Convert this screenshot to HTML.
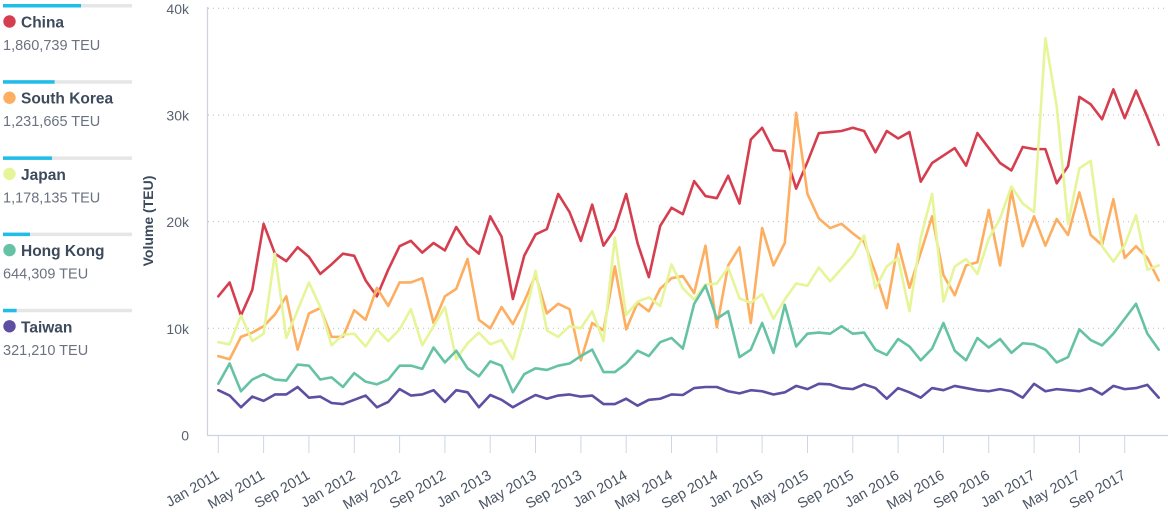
<!DOCTYPE html>
<html>
<head>
<meta charset="utf-8">
<style>
html,body{margin:0;padding:0;background:#fff;}
body{width:1168px;height:520px;overflow:hidden;}
svg{display:block;font-family:"Liberation Sans",Arial,sans-serif;}
.lg{font-size:15.5px;font-weight:bold;fill:#3d4a5c;}
.lv{font-size:14.5px;fill:#6b7280;}
.yl{font-size:14px;fill:#5a6270;text-anchor:end;}
.xl{font-size:14.5px;fill:#4a5463;text-anchor:end;}
.ser{fill:none;stroke-width:2.6;stroke-linejoin:round;stroke-linecap:round;vector-effect:non-scaling-stroke;}
</style>
</head>
<body>
<svg width="1168" height="520" viewBox="0 0 1168 520" xmlns="http://www.w3.org/2000/svg">
  <!-- Legend -->
  <g>
    <rect x="3" y="4" width="129" height="3.5" fill="#e6e6e6"/>
    <rect x="3" y="4" width="78" height="3.5" fill="#1fbdea"/>
    <circle cx="9.5" cy="21.5" r="6.2" fill="#d53e4f"/>
    <text x="21" y="27.5" class="lg">China</text>
    <text x="3" y="50" class="lv">1,860,739 TEU</text>
  </g>
  <g transform="translate(0,76.2)">
    <rect x="3" y="4" width="129" height="3.5" fill="#e6e6e6"/>
    <rect x="3" y="4" width="51.6" height="3.5" fill="#1fbdea"/>
    <circle cx="9.5" cy="21.5" r="6.2" fill="#fdae61"/>
    <text x="21" y="27.5" class="lg">South Korea</text>
    <text x="3" y="50" class="lv">1,231,665 TEU</text>
  </g>
  <g transform="translate(0,152.4)">
    <rect x="3" y="4" width="129" height="3.5" fill="#e6e6e6"/>
    <rect x="3" y="4" width="49" height="3.5" fill="#1fbdea"/>
    <circle cx="9.5" cy="21.5" r="6.2" fill="#e6f598"/>
    <text x="21" y="27.5" class="lg">Japan</text>
    <text x="3" y="50" class="lv">1,178,135 TEU</text>
  </g>
  <g transform="translate(0,228.6)">
    <rect x="3" y="4" width="129" height="3.5" fill="#e6e6e6"/>
    <rect x="3" y="4" width="27" height="3.5" fill="#1fbdea"/>
    <circle cx="9.5" cy="21.5" r="6.2" fill="#66c2a5"/>
    <text x="21" y="27.5" class="lg">Hong Kong</text>
    <text x="3" y="50" class="lv">644,309 TEU</text>
  </g>
  <g transform="translate(0,304.8)">
    <rect x="3" y="4" width="129" height="3.5" fill="#e6e6e6"/>
    <rect x="3" y="4" width="13.6" height="3.5" fill="#1fbdea"/>
    <circle cx="9.5" cy="21.5" r="6.2" fill="#5e4fa2"/>
    <text x="21" y="27.5" class="lg">Taiwan</text>
    <text x="3" y="50" class="lv">321,210 TEU</text>
  </g>

  <!-- Y axis title -->
  <text transform="translate(153,221) rotate(-90)" text-anchor="middle" font-size="14" font-weight="bold" fill="#3d4a5c">Volume (TEU)</text>

  <!-- Gridlines -->
  <g stroke="#b8b8b8" stroke-width="1" stroke-dasharray="1,4">
    <line x1="208" y1="8.3" x2="1168" y2="8.3"/>
    <line x1="208" y1="115" x2="1168" y2="115"/>
    <line x1="208" y1="221.7" x2="1168" y2="221.7"/>
    <line x1="208" y1="328.3" x2="1168" y2="328.3"/>
  </g>

  <!-- Y labels -->
  <text x="189" y="14" class="yl">40k</text>
  <text x="189" y="120.5" class="yl">30k</text>
  <text x="189" y="227.2" class="yl">20k</text>
  <text x="189" y="333.8" class="yl">10k</text>
  <text x="189" y="440.5" class="yl">0</text>

  <!-- Axes -->
  <line x1="207.5" y1="7" x2="207.5" y2="435" stroke="#ccd3e0" stroke-width="1.2"/>
  <line x1="207" y1="435.5" x2="1168" y2="435.5" stroke="#ccd3e0" stroke-width="1.2"/>

  <!-- X ticks -->
  <g stroke="#ccd6eb" stroke-width="1">
    <line x1="218.3" y1="436" x2="218.3" y2="453"/>
    <line x1="263.6" y1="436" x2="263.6" y2="453"/>
    <line x1="308.9" y1="436" x2="308.9" y2="453"/>
    <line x1="354.3" y1="436" x2="354.3" y2="453"/>
    <line x1="399.6" y1="436" x2="399.6" y2="453"/>
    <line x1="444.9" y1="436" x2="444.9" y2="453"/>
    <line x1="490.2" y1="436" x2="490.2" y2="453"/>
    <line x1="535.5" y1="436" x2="535.5" y2="453"/>
    <line x1="580.9" y1="436" x2="580.9" y2="453"/>
    <line x1="626.2" y1="436" x2="626.2" y2="453"/>
    <line x1="671.5" y1="436" x2="671.5" y2="453"/>
    <line x1="716.8" y1="436" x2="716.8" y2="453"/>
    <line x1="762.1" y1="436" x2="762.1" y2="453"/>
    <line x1="807.5" y1="436" x2="807.5" y2="453"/>
    <line x1="852.8" y1="436" x2="852.8" y2="453"/>
    <line x1="898.1" y1="436" x2="898.1" y2="453"/>
    <line x1="943.4" y1="436" x2="943.4" y2="453"/>
    <line x1="988.7" y1="436" x2="988.7" y2="453"/>
    <line x1="1034.1" y1="436" x2="1034.1" y2="453"/>
    <line x1="1079.4" y1="436" x2="1079.4" y2="453"/>
    <line x1="1124.7" y1="436" x2="1124.7" y2="453"/>
  </g>

  <!-- X labels -->
  <text class="xl" transform="translate(220.3,478) rotate(-30)">Jan 2011</text>
  <text class="xl" transform="translate(265.6,478) rotate(-30)">May 2011</text>
  <text class="xl" transform="translate(310.9,478) rotate(-30)">Sep 2011</text>
  <text class="xl" transform="translate(356.3,478) rotate(-30)">Jan 2012</text>
  <text class="xl" transform="translate(401.6,478) rotate(-30)">May 2012</text>
  <text class="xl" transform="translate(446.9,478) rotate(-30)">Sep 2012</text>
  <text class="xl" transform="translate(492.2,478) rotate(-30)">Jan 2013</text>
  <text class="xl" transform="translate(537.5,478) rotate(-30)">May 2013</text>
  <text class="xl" transform="translate(582.9,478) rotate(-30)">Sep 2013</text>
  <text class="xl" transform="translate(628.2,478) rotate(-30)">Jan 2014</text>
  <text class="xl" transform="translate(673.5,478) rotate(-30)">May 2014</text>
  <text class="xl" transform="translate(718.8,478) rotate(-30)">Sep 2014</text>
  <text class="xl" transform="translate(764.1,478) rotate(-30)">Jan 2015</text>
  <text class="xl" transform="translate(809.5,478) rotate(-30)">May 2015</text>
  <text class="xl" transform="translate(854.8,478) rotate(-30)">Sep 2015</text>
  <text class="xl" transform="translate(900.1,478) rotate(-30)">Jan 2016</text>
  <text class="xl" transform="translate(945.4,478) rotate(-30)">May 2016</text>
  <text class="xl" transform="translate(990.7,478) rotate(-30)">Sep 2016</text>
  <text class="xl" transform="translate(1036.1,478) rotate(-30)">Jan 2017</text>
  <text class="xl" transform="translate(1081.4,478) rotate(-30)">May 2017</text>
  <text class="xl" transform="translate(1126.7,478) rotate(-30)">Sep 2017</text>

  <!-- Series -->
  <g transform="translate(218.3,435) scale(11.33,-10.667)">
    <polyline class="ser" stroke="#d53e4f" points="0,13 1,14.3 2,11.2 3,13.6 4,19.8 5,17 6,16.3 7,17.6 8,16.7 9,15.1 10,16 11,17 12,16.8 13,14.5 14,13 15,15.5 16,17.7 17,18.2 18,17.1 19,18 20,17.3 21,19.5 22,17.9 23,17 24,20.5 25,18.6 26,12.75 27,16.8 28,18.8 29,19.3 30,22.6 31,20.9 32,18.2 33,21.6 34,17.75 35,19.3 36,22.6 37,18 38,14.8 39,19.6 40,21.3 41,20.7 42,23.8 43,22.4 44,22.2 45,24.3 46,21.7 47,27.7 48,28.8 49,26.7 50,26.6 51,23.1 52,25.6 53,28.3 54,28.4 55,28.5 56,28.8 57,28.5 58,26.5 59,28.5 60,27.8 61,28.4 62,23.75 63,25.5 64,26.2 65,26.9 66,25.25 67,28.3 68,26.9 69,25.5 70,24.8 71,27 72,26.8 73,26.8 74,23.6 75,25.2 76,31.7 77,31 78,29.6 79,32.4 80,29.7 81,32.3 82,29.8 83,27.2"/>
    <polyline class="ser" stroke="#fdae61" points="0,7.4 1,7.1 2,9.2 3,9.6 4,10.2 5,11.3 6,13 7,8 8,11.4 9,11.9 10,9.2 11,9.2 12,11.7 13,10.8 14,13.8 15,12.1 16,14.3 17,14.3 18,14.7 19,10.5 20,13 21,13.7 22,16.5 23,10.8 24,10 25,12 26,10.4 27,12.5 28,15 29,11.4 30,12.3 31,11.8 32,7 33,10.5 34,9.8 35,15.8 36,9.9 37,12.4 38,11.6 39,13.7 40,14.7 41,14.9 42,13.3 43,17.75 44,10.1 45,15.9 46,17.6 47,10.5 48,19.4 49,15.9 50,18 51,30.2 52,22.6 53,20.3 54,19.4 55,19.8 56,18.9 57,18.1 58,15.2 59,11.9 60,17.9 61,13.8 62,17.1 63,20.5 64,15 65,13.1 66,15.9 67,16.2 68,21.1 69,15.9 70,22.9 71,17.7 72,20.5 73,17.75 74,20.25 75,18.75 76,22.75 77,18.75 78,17.8 79,22.1 80,16.6 81,17.7 82,16.6 83,14.5"/>
    <polyline class="ser" stroke="#e6f598" points="0,8.7 1,8.5 2,11.2 3,8.8 4,9.5 5,17 6,9.1 7,11.7 8,14.3 9,12 10,8.4 11,9.4 12,9.5 13,8.3 14,9.9 15,8.8 16,9.9 17,11.8 18,8.4 19,10.2 20,12 21,7.1 22,8.6 23,9.6 24,8.5 25,8.9 26,7.1 27,10.8 28,15.4 29,9.8 30,9.2 31,10.2 32,10 33,11.6 34,8.8 35,18.5 36,11.25 37,12.5 38,12.9 39,12.1 40,16 41,13.75 42,12.7 43,14.1 44,14.2 45,15.7 46,12.8 47,12.4 48,13.2 49,10.9 50,12.7 51,14.2 52,14 53,15.7 54,14.4 55,15.6 56,16.8 57,18.7 58,13.75 59,15.8 60,16.6 61,11.6 62,18.5 63,22.6 64,12.5 65,15.8 66,16.5 67,15.1 68,18.4 69,20.3 70,23.3 71,21.7 72,20.9 73,37.2 74,30.8 75,19.8 76,25 77,25.7 78,17.7 79,16.25 80,17.8 81,20.6 82,15.5 83,15.9"/>
    <polyline class="ser" stroke="#66c2a5" points="0,4.8 1,6.7 2,4.1 3,5.2 4,5.7 5,5.2 6,5.1 7,6.6 8,6.5 9,5.2 10,5.4 11,4.5 12,5.8 13,5 14,4.75 15,5.2 16,6.5 17,6.5 18,6.2 19,8.2 20,6.8 21,7.9 22,6.25 23,5.5 24,6.9 25,6.5 26,4 27,5.7 28,6.25 29,6.1 30,6.5 31,6.7 32,7.4 33,8 34,5.9 35,5.9 36,6.7 37,7.9 38,7.4 39,8.7 40,9.1 41,8.1 42,12.3 43,14 44,10.9 45,11.6 46,7.3 47,8 48,10.5 49,7.7 50,12.2 51,8.3 52,9.5 53,9.6 54,9.5 55,10.2 56,9.5 57,9.6 58,8 59,7.5 60,9 61,8.3 62,7 63,8.1 64,10.5 65,7.9 66,7 67,9.1 68,8.2 69,9 70,7.7 71,8.6 72,8.5 73,8 74,6.8 75,7.3 76,9.9 77,8.9 78,8.4 79,9.5 80,10.9 81,12.3 82,9.5 83,8"/>
    <polyline class="ser" stroke="#5e4fa2" points="0,4.2 1,3.7 2,2.6 3,3.6 4,3.2 5,3.8 6,3.8 7,4.5 8,3.5 9,3.6 10,3 11,2.9 12,3.3 13,3.7 14,2.6 15,3.1 16,4.3 17,3.7 18,3.8 19,4.2 20,3.1 21,4.2 22,4 23,2.6 24,3.75 25,3.3 26,2.6 27,3.2 28,3.75 29,3.4 30,3.7 31,3.8 32,3.6 33,3.7 34,2.9 35,2.9 36,3.4 37,2.75 38,3.3 39,3.4 40,3.8 41,3.75 42,4.4 43,4.5 44,4.5 45,4.1 46,3.9 47,4.2 48,4.1 49,3.8 50,4 51,4.6 52,4.3 53,4.8 54,4.75 55,4.4 56,4.3 57,4.75 58,4.4 59,3.4 60,4.4 61,4 62,3.5 63,4.4 64,4.2 65,4.6 66,4.4 67,4.2 68,4.1 69,4.3 70,4.1 71,3.5 72,4.8 73,4.1 74,4.3 75,4.2 76,4.1 77,4.4 78,3.8 79,4.6 80,4.3 81,4.4 82,4.7 83,3.5"/>
  </g>
</svg>
</body>
</html>
